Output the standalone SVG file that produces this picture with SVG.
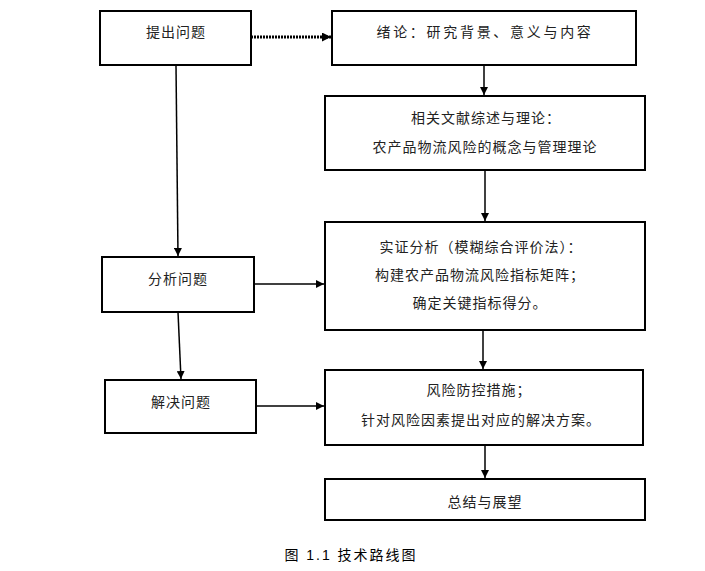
<svg xmlns="http://www.w3.org/2000/svg" width="705" height="571" viewBox="0 0 705 571">
<style>
.box{fill:#fff;stroke:#000;stroke-width:2}
.t{font-family:"Noto Sans CJK SC","Liberation Sans",sans-serif;font-size:14px;fill:#222;text-anchor:middle;letter-spacing:1px}
.c{stroke:#000;stroke-width:1.5;fill:none}
</style>
<defs>
<marker id="ah" viewBox="0 0 10 10" refX="10" refY="5" markerWidth="8" markerHeight="8" markerUnits="userSpaceOnUse" orient="auto"><path d="M0,0 L10,5 L0,10 z" fill="#000"/></marker>
<marker id="ah2" viewBox="0 0 10 10" refX="10" refY="5" markerWidth="9" markerHeight="9" markerUnits="userSpaceOnUse" orient="auto"><path d="M0,0 L10,5 L0,10 z" fill="#000"/></marker>
</defs>
<rect width="705" height="571" fill="#fff"/>
<g id="n1"><rect class="box" x="100" y="11" width="151" height="54"/><text class="t" x="176" y="37">提出问题</text></g>
<g id="n2"><rect class="box" x="332" y="11" width="304" height="54"/><text class="t" x="485" y="37" style="letter-spacing:2.7px">绪论：研究背景、意义与内容</text></g>
<g id="n3"><rect class="box" x="325" y="96" width="320" height="74"/><text class="t" x="486" y="123">相关文献综述与理论：</text><text class="t" x="485" y="152">农产品物流风险的概念与管理理论</text></g>
<g id="n4"><rect class="box" x="325" y="222" width="320" height="108"/><text class="t" x="481" y="252">实证分析（模糊综合评价法）：</text><text class="t" x="480" y="280">构建农产品物流风险指标矩阵；</text><text class="t" x="480" y="308">确定关键指标得分。</text></g>
<g id="n5"><rect class="box" x="325" y="370" width="318" height="75"/><text class="t" x="479" y="395">风险防控措施；</text><text class="t" x="481" y="425">针对风险因素提出对应的解决方案。</text></g>
<g id="n6"><rect class="box" x="325" y="479" width="320" height="41"/><text class="t" x="485" y="507">总结与展望</text></g>
<g id="n7"><rect class="box" x="102" y="257" width="152" height="55"/><text class="t" x="178" y="284">分析问题</text></g>
<g id="n8"><rect class="box" x="105" y="380" width="151" height="53"/><text class="t" x="181" y="407">解决问题</text></g>
<g id="connectors">
<line x1="251" y1="37" x2="331" y2="37" stroke="#000" stroke-width="3" stroke-dasharray="2,1" marker-end="url(#ah2)"/>
<line class="c" x1="484" y1="65" x2="484" y2="95" marker-end="url(#ah)"/>
<line class="c" x1="485" y1="170" x2="485" y2="221" marker-end="url(#ah)"/>
<line class="c" x1="483" y1="330" x2="483" y2="369" marker-end="url(#ah)"/>
<line class="c" x1="485" y1="445" x2="485" y2="478" marker-end="url(#ah)"/>
<line class="c" x1="176" y1="65" x2="178" y2="256" marker-end="url(#ah)"/>
<line class="c" x1="178" y1="312" x2="181" y2="379" marker-end="url(#ah)"/>
<line class="c" x1="254" y1="284" x2="324" y2="284" marker-end="url(#ah)"/>
<line class="c" x1="256" y1="406" x2="324" y2="406" marker-end="url(#ah)"/>
</g>
<text x="351" y="560" style="font-family:'Liberation Sans','Noto Sans CJK SC',sans-serif;font-size:14px;fill:#000;text-anchor:middle;letter-spacing:2px">图 1.1 技术路线图</text>
</svg>
